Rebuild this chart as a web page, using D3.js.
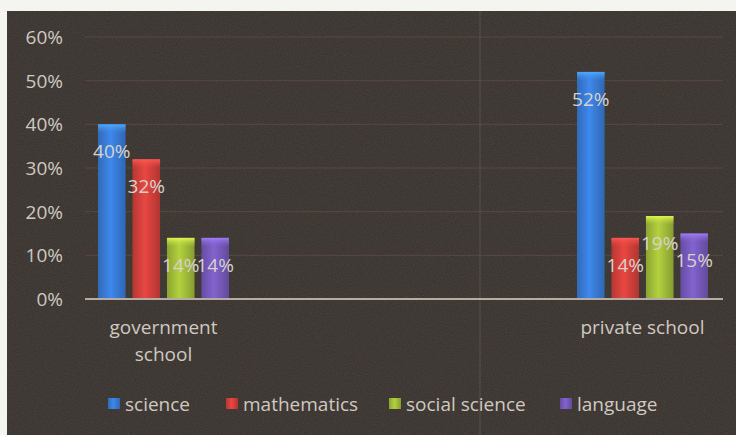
<!DOCTYPE html>
<html>
<head>
<meta charset="utf-8">
<script src="https://cdn.jsdelivr.net/npm/d3@7"></script>
<style>
  html, body { margin: 0; padding: 0; background: #f4f4f1; }
  svg { display: block; }
</style>
</head>
<body>
<script>
// ---- data ----
const categories = ["government school", "private school"];
const categoryLines = [["government", "school"], ["private school"]];
const series = ["science", "mathematics", "social science", "language"];
const governmentValues = [0.40, 0.32, 0.14, 0.14];
const privateValues = [0.52, 0.14, 0.19, 0.15];
const yTicks = [0, 0.1, 0.2, 0.3, 0.4, 0.5, 0.6];
const seriesColors = ["#3b7fdc", "#d9423d", "#a7c33b", "#7a5cc0"];

const valuesByCategory = [governmentValues, privateValues];
const rows = categories.map((c, i) => ({ category: c, lines: categoryLines[i], values: valuesByCategory[i] }));

const W = 736, H = 435;
const svg = d3.select("body").append("svg").attr("width", W).attr("height", H);
const defs = svg.append("defs");

// panel
svg.append("rect").attr("x", 7).attr("y", 11).attr("width", W - 7).attr("height", H - 11).attr("fill", "#36302c");

// noise texture
const f = defs.append("filter").attr("id", "noise").attr("x", 0).attr("y", 0).attr("width", "100%").attr("height", "100%");
f.append("feTurbulence").attr("type", "fractalNoise").attr("baseFrequency", 0.9).attr("numOctaves", 2).attr("seed", 3).attr("result", "t");
f.append("feColorMatrix").attr("in", "t").attr("type", "matrix")
  .attr("values", "0 0 0 0 0.55  0 0 0 0 0.48  0 0 0 0 0.44  0 0 0 0.14 0");
svg.append("rect").attr("x", 7).attr("y", 11).attr("width", W - 7).attr("height", H - 11).attr("filter", "url(#noise)");

// gradients per series
seriesColors.forEach((c, i) => {
  const base = d3.color(c);
  const g = defs.append("linearGradient").attr("id", "bar" + i).attr("x1", 0).attr("x2", 1).attr("y1", 0).attr("y2", 0);
  g.append("stop").attr("offset", "0%").attr("stop-color", base.darker(0.5));
  g.append("stop").attr("offset", "45%").attr("stop-color", base.brighter(0.2));
  g.append("stop").attr("offset", "100%").attr("stop-color", base.darker(0.6));
  const cg = defs.append("linearGradient").attr("id", "cap" + i).attr("x1", 0).attr("x2", 0).attr("y1", 0).attr("y2", 1);
  cg.append("stop").attr("offset", "0%").attr("stop-color", base.brighter(0.9)).attr("stop-opacity", 0.9);
  cg.append("stop").attr("offset", "100%").attr("stop-color", base.brighter(0.2)).attr("stop-opacity", 0);
});

// scales
const y = d3.scaleLinear().domain([0, 0.6]).range([299, 37]);
const x0 = d3.scaleBand().domain(categories).range([98, 708]).paddingInner(0.7265).paddingOuter(0);
const x1 = d3.scaleBand().domain(series).range([0, x0.bandwidth()]).paddingInner(0.2).paddingOuter(0);

const fontFam = "'Open Sans', 'Noto Sans', sans-serif";
const textCol = "#cfc9c1";
const fs = 19;

// gridlines
svg.append("g").selectAll("line").data(yTicks.filter(t => t > 0)).join("line")
  .attr("x1", 85).attr("x2", 723)
  .attr("y1", d => y(d)).attr("y2", d => y(d))
  .attr("stroke", "#6a5a52").attr("stroke-opacity", 0.5).attr("stroke-width", 1);

// faint vertical crease
svg.append("line").attr("x1", 480).attr("x2", 480).attr("y1", 11).attr("y2", H)
  .attr("stroke", "#6a605a").attr("stroke-opacity", 0.4).attr("stroke-width", 1.5);

// y axis labels
const yAxis = d3.axisLeft(y).tickValues(yTicks).tickFormat(d3.format(".0%")).tickSize(0).tickPadding(0);
const yg = svg.append("g").attr("transform", "translate(63,0)").call(yAxis);
yg.select(".domain").remove();
yg.selectAll("text").attr("fill", textCol).attr("font-family", fontFam).attr("font-size", fs).attr("dy", "0.34em");

// bars
const groups = svg.append("g").selectAll("g").data(rows).join("g")
  .attr("transform", d => `translate(${x0(d.category)},0)`);
const barData = d => d.values.map((v, i) => ({ s: series[i], v, i }));

groups.selectAll("rect.bar").data(barData).join("rect")
  .attr("class", "bar")
  .attr("x", d => x1(d.s)).attr("width", x1.bandwidth())
  .attr("y", d => y(d.v)).attr("height", d => y(0) - y(d.v))
  .attr("fill", d => `url(#bar${d.i})`);

groups.selectAll("rect.cap").data(barData).join("rect")
  .attr("class", "cap")
  .attr("x", d => x1(d.s)).attr("width", x1.bandwidth())
  .attr("y", d => y(d.v)).attr("height", 9)
  .attr("fill", d => `url(#cap${d.i})`);

// data labels
groups.selectAll("text.lbl").data(barData).join("text")
  .attr("class", "lbl")
  .attr("x", d => x1(d.s) + x1.bandwidth() / 2)
  .attr("y", d => y(d.v) + 27)
  .attr("dy", "0.35em")
  .attr("text-anchor", "middle")
  .attr("fill", "#d8d2cc").attr("font-family", fontFam).attr("font-size", fs)
  .text(d => d3.format(".0%")(d.v));

// x axis line
svg.append("line").attr("x1", 85).attr("x2", 723).attr("y1", y(0)).attr("y2", y(0))
  .attr("stroke", "#b5ada3").attr("stroke-width", 2);

// category labels
const cl = svg.append("g").selectAll("text").data(rows).join("text")
  .attr("x", d => x0(d.category) + x0.bandwidth() / 2)
  .attr("y", 334)
  .attr("text-anchor", "middle")
  .attr("fill", textCol).attr("font-family", fontFam).attr("font-size", fs);
cl.selectAll("tspan").data(d => d.lines).join("tspan")
  .attr("x", function() { return d3.select(this.parentNode).attr("x"); })
  .attr("dy", (d, i) => i === 0 ? 0 : 27)
  .text(d => d);

// legend
const legendX = [108, 226, 389, 560];
const lg = svg.append("g").selectAll("g").data(series).join("g")
  .attr("transform", (d, i) => `translate(${legendX[i]},0)`);
lg.append("rect").attr("x", 0).attr("y", 398).attr("width", 12).attr("height", 11)
  .attr("fill", (d, i) => `url(#bar${i})`);
lg.append("text").attr("x", 17).attr("y", 411)
  .attr("fill", textCol).attr("font-family", fontFam).attr("font-size", fs)
  .text(d => d);
</script>
</body>
</html>
